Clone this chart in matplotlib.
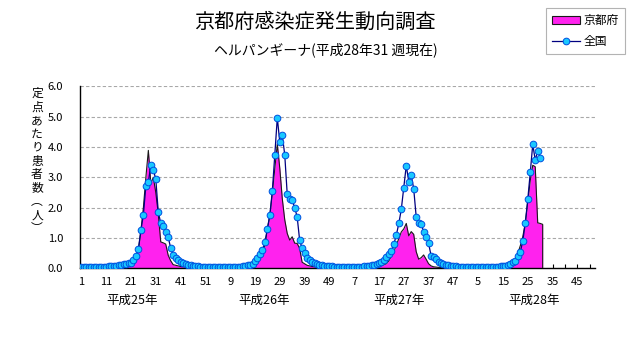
import matplotlib.pyplot as plt
import numpy as np
from matplotlib.patches import Patch
from matplotlib.lines import Line2D

plt.rcParams['font.family'] = ['Noto Sans CJK JP', 'DejaVu Sans']

# 年ラベル / 週番号 (1年=52週で表示)
years = ['平成25年', '平成26年', '平成27年', '平成28年']
weeks = list(range(1, 53)) * 4

# 京都府 定点あたり患者数
kyoto_h25 = [0.02, 0.02, 0.01, 0.02, 0.02, 0.03, 0.02, 0.03, 0.03, 0.04,
             0.04, 0.05, 0.05, 0.06, 0.07, 0.08, 0.10, 0.12, 0.15, 0.20,
             0.25, 0.35, 0.45, 0.60, 1.25, 2.00, 3.00, 3.89, 2.80, 3.00,
             2.50, 1.80, 0.87, 0.84, 0.80, 0.43, 0.25, 0.12, 0.10, 0.08,
             0.06, 0.05, 0.05, 0.04, 0.04, 0.03, 0.03, 0.02, 0.02, 0.02, 0.02, 0.02]
kyoto_h26 = [0.02, 0.02, 0.02, 0.02, 0.02, 0.02, 0.02, 0.03, 0.03, 0.03,
             0.03, 0.03, 0.04, 0.04, 0.05, 0.05, 0.06, 0.10, 0.15, 0.20,
             0.30, 0.50, 0.76, 1.30, 1.75, 2.50, 3.30, 4.10, 3.30, 2.30,
             1.60, 1.15, 0.93, 1.04, 0.83, 0.82, 0.66, 0.20, 0.15, 0.10,
             0.08, 0.06, 0.05, 0.04, 0.03, 0.03, 0.02, 0.02, 0.02, 0.02, 0.02, 0.02]
kyoto_h27 = [0.02, 0.02, 0.02, 0.02, 0.02, 0.02, 0.03, 0.03, 0.03, 0.03,
             0.03, 0.04, 0.04, 0.05, 0.05, 0.06, 0.08, 0.10, 0.12, 0.15,
             0.25, 0.40, 0.55, 0.77, 1.00, 1.20, 1.30, 1.48, 1.07, 1.21,
             1.12, 0.55, 0.30, 0.35, 0.44, 0.30, 0.15, 0.08, 0.05, 0.04,
             0.03, 0.03, 0.02, 0.02, 0.02, 0.02, 0.02, 0.02, 0.02, 0.02, 0.02, 0.02]
kyoto_h28 = [0.01, 0.01, 0.01, 0.02, 0.02, 0.02, 0.02, 0.02, 0.02, 0.03,
             0.03, 0.03, 0.03, 0.03, 0.03, 0.04, 0.06, 0.10, 0.20, 0.30,
             0.50, 0.75, 1.05, 1.50, 2.20, 2.90, 3.40, 3.35, 1.50, 1.48, 1.45]

# 全国 定点あたり患者数
zenkoku_h25 = [0.03, 0.03, 0.03, 0.03, 0.03, 0.03, 0.03, 0.03, 0.04, 0.04,
               0.05, 0.06, 0.07, 0.08, 0.09, 0.10, 0.11, 0.13, 0.15, 0.17,
               0.18, 0.29, 0.40, 0.65, 1.25, 1.77, 2.72, 2.84, 3.40, 3.25,
               2.94, 1.86, 1.49, 1.41, 1.19, 1.03, 0.67, 0.43, 0.35, 0.27,
               0.22, 0.18, 0.15, 0.12, 0.10, 0.08, 0.07, 0.06, 0.05, 0.05, 0.04, 0.04]
zenkoku_h26 = [0.03, 0.03, 0.03, 0.03, 0.03, 0.03, 0.03, 0.03, 0.03, 0.03,
               0.03, 0.04, 0.05, 0.06, 0.08, 0.10, 0.11, 0.14, 0.24, 0.33,
               0.47, 0.60, 0.86, 1.30, 1.76, 2.55, 3.74, 4.97, 4.15, 4.40,
               3.74, 2.44, 2.28, 2.25, 2.00, 1.70, 0.93, 0.66, 0.50, 0.35,
               0.27, 0.20, 0.17, 0.14, 0.12, 0.10, 0.09, 0.08, 0.07, 0.06, 0.05, 0.05]
zenkoku_h27 = [0.03, 0.03, 0.03, 0.03, 0.03, 0.04, 0.04, 0.04, 0.05, 0.05,
               0.06, 0.07, 0.08, 0.10, 0.12, 0.14, 0.17, 0.20, 0.28, 0.36,
               0.47, 0.58, 0.80, 1.10, 1.48, 1.95, 2.66, 3.39, 2.86, 3.08,
               2.62, 1.70, 1.48, 1.46, 1.21, 1.04, 0.82, 0.42, 0.38, 0.30,
               0.22, 0.17, 0.14, 0.12, 0.10, 0.08, 0.07, 0.06, 0.05, 0.04, 0.03, 0.03]
zenkoku_h28 = [0.03, 0.03, 0.03, 0.03, 0.03, 0.03, 0.03, 0.03, 0.04, 0.04,
               0.04, 0.05, 0.05, 0.06, 0.07, 0.08, 0.10, 0.13, 0.20, 0.24,
               0.40, 0.54, 0.91, 1.50, 2.28, 3.16, 4.09, 3.57, 3.88, 3.65]

kyoto = kyoto_h25 + kyoto_h26 + kyoto_h27 + kyoto_h28
zenkoku = zenkoku_h25 + zenkoku_h26 + zenkoku_h27 + zenkoku_h28

W, H = 631, 347
fig = plt.figure(figsize=(W / 100, H / 100), dpi=100)
ax = fig.add_axes([80 / W, 1 - 268.3 / H, 515 / W, (268.3 - 86.4) / H])

xk = np.arange(len(kyoto))
ax.fill_between(xk, kyoto, color='#FF22EE', lw=0, zorder=2)
ax.plot(np.r_[xk, xk[-1]], np.r_[kyoto, 0], color='#1a1a1a', lw=0.8, zorder=3)

xz = np.arange(len(zenkoku))
ax.plot(xz, zenkoku, color='#000080', lw=0.9, marker='o', ms=4.8,
        mfc='#19C8FF', mec='#0050E0', mew=0.7, zorder=4)

ax.set_xlim(-0.56, 207.1)
ax.set_ylim(0, 6)

xt = list(range(0, 208, 5))
ax.set_xticks(xt)
ax.set_xticklabels([str(weeks[i]) if i % 10 == 0 else '' for i in xt])
ax.set_yticks(np.arange(0, 6.1, 1.0))
ax.set_yticklabels(['%.1f' % v for v in np.arange(0, 6.1, 1.0)])
ax.tick_params(axis='x', direction='in', length=3, width=0.8, pad=6, labelsize=8)
ax.tick_params(axis='y', length=0, pad=12, labelsize=8)
ax.yaxis.grid(True, ls=(0, (3, 2)), color='#a8a8a8', lw=0.8)
ax.set_axisbelow(True)
for s in ['top', 'right']:
    ax.spines[s].set_visible(False)
for s in ['left', 'bottom']:
    ax.spines[s].set_linewidth(1.0)

# 年ラベル
year_pos = [20.3, 73.6, 128, 182.5]
for p, y in zip(year_pos, years):
    ax.text(p, -0.175, y, transform=ax.get_xaxis_transform(), ha='center',
            va='center', fontsize=9)

# 縦書きの軸ラベル
fig.text(37 / W, 1 - 87 / H, '\n'.join('定点あたり患者数︵人︶'), ha='center', va='top',
         fontsize=8.5, linespacing=1.05)

fig.text(315 / W, 1 - 22 / H, '京都府感染症発生動向調査', ha='center', va='center', fontsize=14.5)
fig.text(438 / W, 1 - 50 / H, 'ヘルパンギーナ(平成28年31 週現在)', ha='right', va='center', fontsize=10)

handles = [Patch(facecolor='#FF22EE', edgecolor='#1a1a1a', lw=0.8),
           Line2D([], [], color='#000080', lw=0.9, marker='o', ms=4.8,
                  mfc='#19C8FF', mec='#0050E0', mew=0.7)]
leg = fig.legend(handles, ['京都府', '全国'], loc='upper right',
                 bbox_to_anchor=(625 / W, 1 - 8 / H), borderaxespad=0, fontsize=8.5,
                 frameon=True, fancybox=False, edgecolor='#a0a0a0', handlelength=2.4,
                 handletextpad=0.3, borderpad=0.5, labelspacing=0.7)
leg.get_frame().set_linewidth(0.8)

fig.savefig('out.png', dpi=100)
